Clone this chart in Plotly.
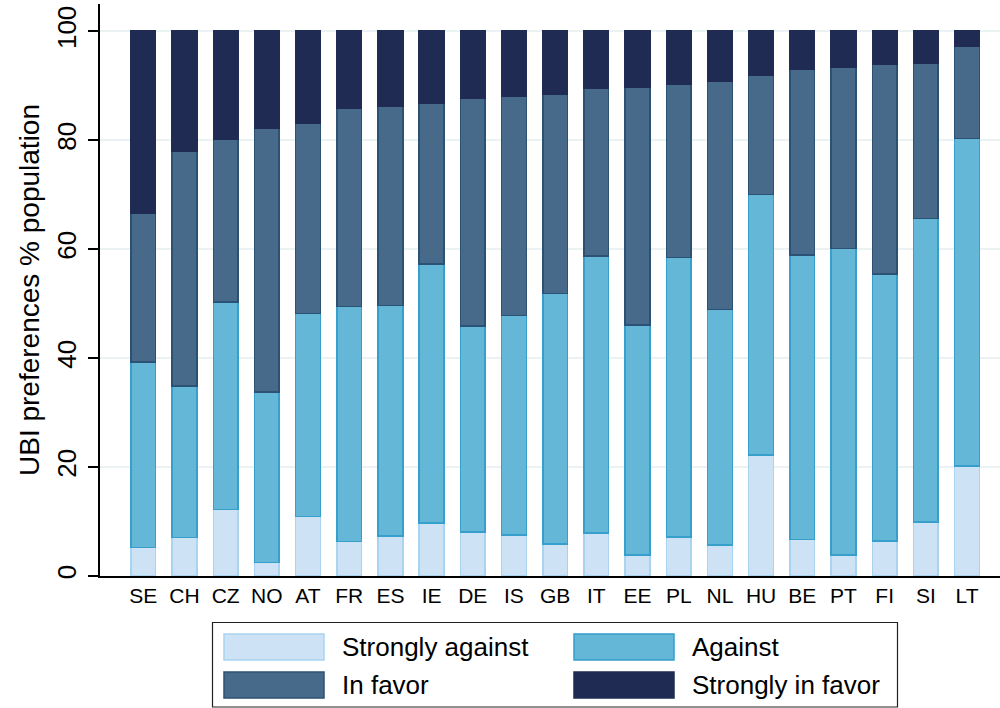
import plotly.graph_objects as go

# Share of population per answer, by country (percent, stacks sum to 100)
countries = ["SE", "CH", "CZ", "NO", "AT", "FR", "ES", "IE", "DE", "IS", "GB",
             "IT", "EE", "PL", "NL", "HU", "BE", "PT", "FI", "SI", "LT"]
strongly_against = [5.2, 7.1, 12.2, 2.5, 10.9, 6.3, 7.3, 9.7, 8.1, 7.5, 5.9,
                    7.9, 3.9, 7.2, 5.7, 22.2, 6.7, 3.9, 6.4, 9.9, 20.2]
against = [34.1, 27.8, 38.1, 31.3, 37.3, 43.2, 42.4, 47.6, 37.8, 40.3, 46.0,
           50.8, 42.2, 51.3, 43.2, 47.8, 52.2, 56.2, 49.0, 55.7, 60.1]
in_favor = [27.2, 43.1, 29.9, 48.4, 35.0, 36.3, 36.6, 29.5, 41.8, 40.2, 36.6,
            30.8, 43.7, 31.8, 41.9, 22.0, 34.2, 33.2, 38.6, 28.6, 17.0]
strongly_in_favor = [33.5, 22.0, 19.8, 17.8, 16.8, 14.2, 13.7, 13.2, 12.3, 12.0, 11.5,
                     10.5, 10.2, 9.7, 9.2, 8.0, 6.9, 6.7, 6.0, 5.8, 2.7]

labels = ["Strongly against", "Against", "In favor", "Strongly in favor"]
fills = ["#cde3f5", "#65b7d7", "#476a8b", "#1f2b52"]
edges = ["#a9d3ef", "#369fcc", "#2b5274", "#1f2b52"]
series = [strongly_against, against, in_favor, strongly_in_favor]

FONT = "Liberation Sans, Arial, sans-serif"

# plot area in pixels: x 100..1000, y 4..576
L, R, T, B = 100, 1000, 4, 576


def px_x(x):
    return (x - L) / (R - L)


def px_y(y):
    return (B - y) / (B - T)


fig = go.Figure()
for name, vals, fc, ec in zip(labels, series, fills, edges):
    fig.add_trace(go.Bar(
        x=countries, y=vals, name=name, width=0.6,
        marker=dict(color=fc, line=dict(color=ec, width=1.5)),
        showlegend=False,
    ))

fig.update_layout(
    barmode="stack",
    width=1000, height=708,
    margin=dict(l=L, r=1000 - R, t=T, b=708 - B),
    plot_bgcolor="white", paper_bgcolor="white",
    font=dict(family=FONT, color="black"),
)
fig.update_xaxes(
    range=[-1.05, 20.8], showline=True, linecolor="black", linewidth=1.5,
    ticks="", tickfont=dict(size=21), showgrid=False, automargin=False,
)
fig.update_yaxes(
    range=[0, 105], tickvals=[0, 20, 40, 60, 80, 100], tickangle=-90,
    showline=True, linecolor="black", linewidth=1.5,
    ticks="outside", ticklen=10, tickcolor="black", tickwidth=1.5,
    tickfont=dict(size=26), ticklabelstandoff=2, automargin=False,
    showgrid=True, gridcolor="#eaf2f3", gridwidth=1.5, zeroline=False,
    title=dict(text="UBI preferences % population", font=dict(size=28), standoff=4),
)

# legend drawn by hand to get the wide Stata-style key boxes
fig.add_shape(type="rect", xref="paper", yref="paper",
              x0=px_x(212.5), x1=px_x(897.5), y0=px_y(707), y1=px_y(622.5),
              line=dict(color="#222", width=1.2), fillcolor="white")
cols = [(224, 340), (574, 690)]
rows = [(634, 660), (672, 698)]
for i, (name, fc, ec) in enumerate(zip(labels, fills, edges)):
    (sx, tx) = cols[i % 2]
    (y0, y1) = rows[i // 2]
    fig.add_shape(type="rect", xref="paper", yref="paper",
                  x0=px_x(sx), x1=px_x(sx + 100), y0=px_y(y1), y1=px_y(y0),
                  line=dict(color=ec, width=1.5), fillcolor=fc)
    fig.add_annotation(x=px_x(tx), y=px_y((y0 + y1) / 2), xref="paper", yref="paper",
                       text=name, showarrow=False, xanchor="left", yanchor="middle",
                       font=dict(size=26, color="black"))

# page body has an 8px default margin; drop it so the figure sits at 0,0
fig.write_html("out.html", config={"displayModeBar": False},
               post_script="document.body.style.margin='0';")
